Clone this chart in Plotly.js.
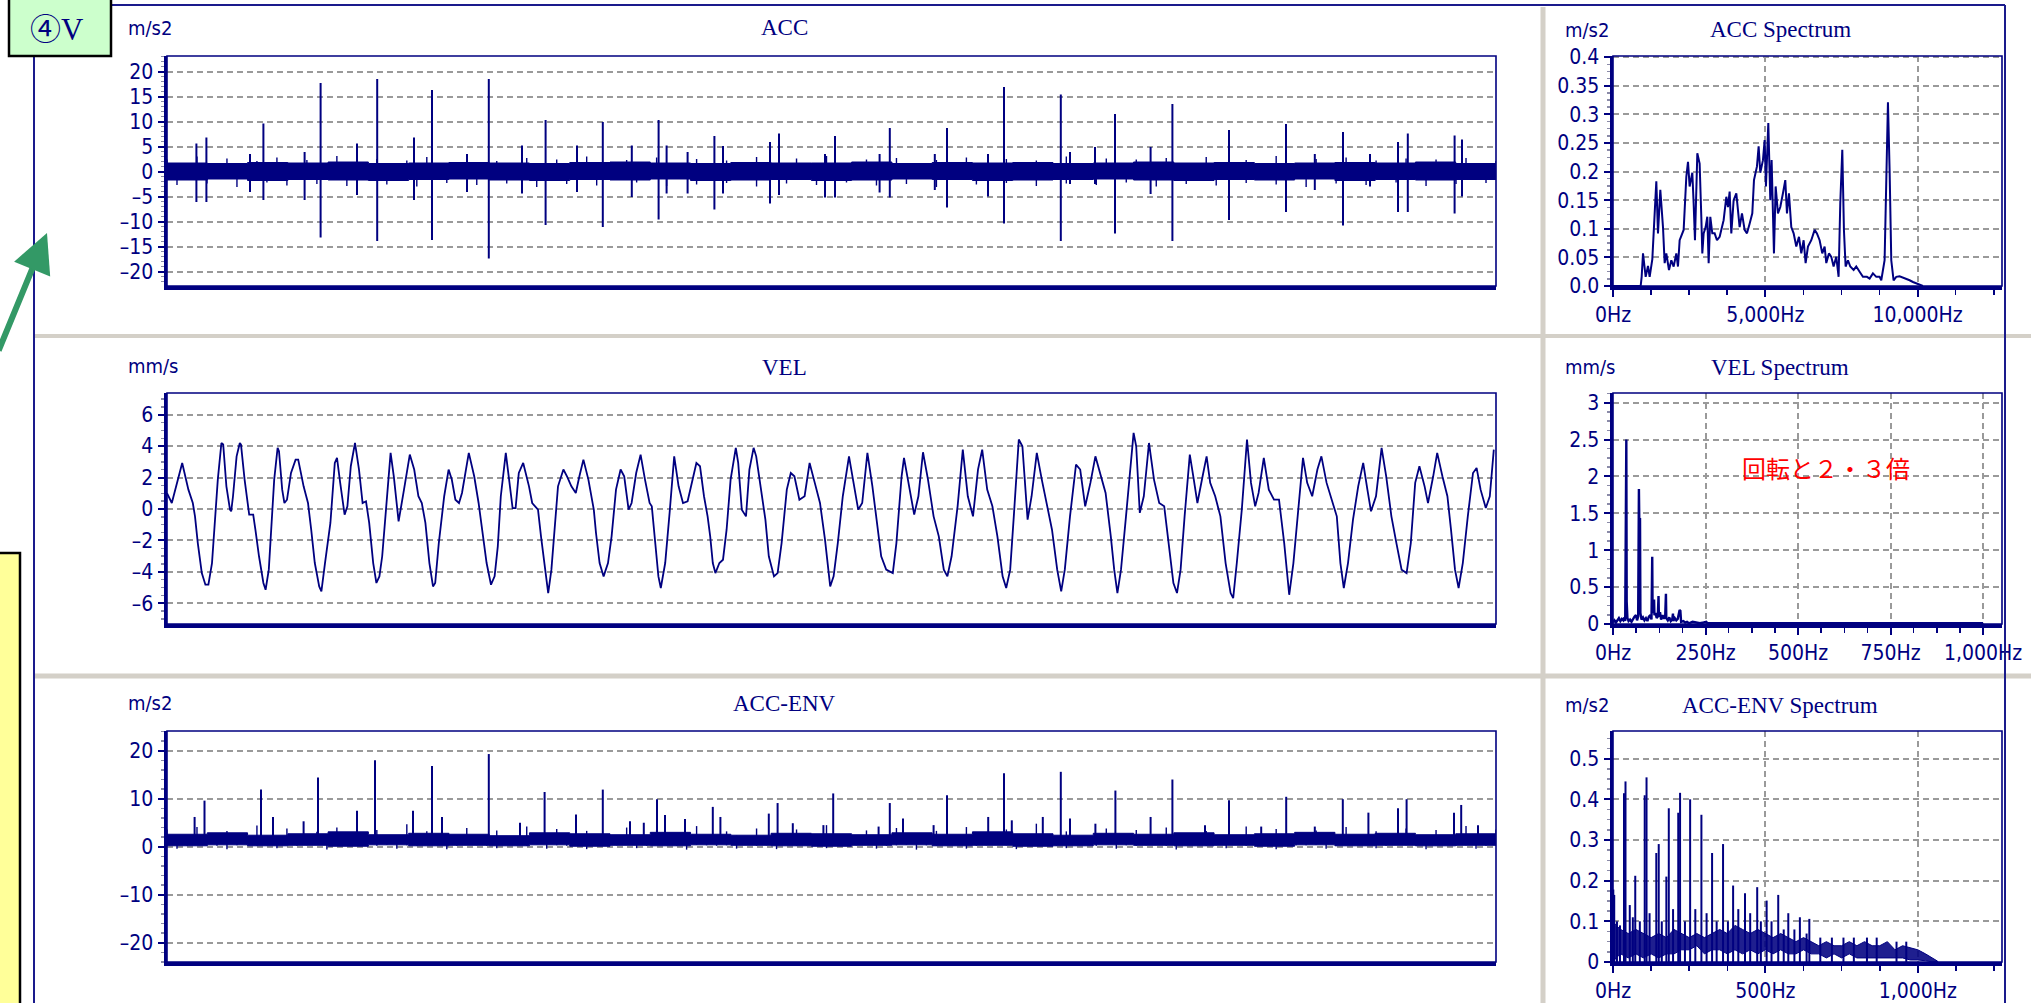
<!DOCTYPE html>
<html>
<head>
<meta charset="utf-8">
<script src="https://cdn.plot.ly/plotly-3.0.1.min.js"></script>
<style>
html,body{margin:0;padding:0;background:#ffffff;overflow:hidden;}
#chart{width:2031px;height:1003px;}
</style>
</head>
<body>
<div id="chart"></div>
<script>
// ---------------- DATA ----------------
const TIME_SPAN_MS = 664.5;
// ACC time waveform (m/s2): solid noise core (every ~20 ms), noise whiskers (every ~5 ms), impulse spikes
const ACC_CORE_UP = [1.7,1.6,1.8,1.7,1.9,1.6,1.7,1.8,1.7,1.6,1.8,1.9,1.7,1.6,1.8,1.7,1.7,1.9,1.6,1.8,1.7,1.8,1.6,1.7,1.9,1.7,1.8,1.6,1.7,1.8,1.7,1.9,1.6,1.7];
const ACC_CORE_LO = [-1.6,-1.7,-1.5,-1.8,-1.6,-1.7,-1.8,-1.6,-1.5,-1.7,-1.8,-1.6,-1.7,-1.5,-1.8,-1.7,-1.6,-1.8,-1.7,-1.5,-1.6,-1.8,-1.7,-1.6,-1.5,-1.7,-1.8,-1.6,-1.7,-1.5,-1.8,-1.6,-1.7,-1.6];
const ACC_NOISE_UP = [
2.4,1.0,1.2,3.0,1.1,1.0,2.6,1.3,1.0,2.1,1.2,2.8,1.0,1.1,2.3,1.0,1.3,3.1,1.2,1.0,
1.0,2.5,1.1,1.2,2.2,1.0,2.9,1.3,1.0,1.1,2.6,1.0,1.2,2.1,1.1,1.0,2.7,1.2,1.0,2.4,
1.1,1.0,3.0,1.2,1.0,1.3,2.3,1.0,1.1,2.8,1.0,1.2,1.0,2.5,1.1,1.0,2.2,1.3,1.0,2.9,
1.2,1.0,1.1,2.6,1.0,1.2,3.1,1.0,1.1,1.3,2.4,1.0,1.2,2.7,1.0,1.1,1.0,2.3,1.2,1.0,
2.8,1.1,1.0,1.3,2.5,1.0,1.2,2.2,1.0,1.1,3.0,1.0,1.2,1.0,2.6,1.1,1.3,2.4,1.0,1.0,
2.7,1.2,1.0,1.1,2.9,1.0,1.3,1.0,2.3,1.2,1.0,3.1,1.1,1.0,1.2,2.5,1.0,1.1,2.8,1.0,
1.2,2.2,1.0,1.1,2.6,1.3,1.0,2.4,1.0,1.2,2.7,1.0,1.1,2.1];
const ACC_NOISE_LO = [
-1.0,-2.7,-1.1,-1.0,-2.4,-1.2,-1.0,-3.1,-1.1,-1.3,-2.2,-1.0,-2.8,-1.2,-1.0,-2.5,-1.1,-1.0,-2.9,-1.2,
-1.0,-1.3,-2.6,-1.0,-1.1,-3.0,-1.0,-1.2,-2.3,-1.0,-1.1,-2.7,-1.3,-1.0,-2.4,-1.1,-1.0,-3.1,-1.2,-1.0,
-2.5,-1.1,-1.0,-2.8,-1.2,-1.0,-1.1,-2.2,-1.3,-1.0,-2.9,-1.1,-1.0,-2.6,-1.2,-1.0,-2.3,-1.1,-1.3,-3.0,
-1.0,-1.2,-2.4,-1.0,-1.1,-2.7,-1.0,-1.3,-2.2,-1.1,-1.0,-2.8,-1.2,-1.0,-2.5,-1.1,-1.0,-3.1,-1.2,-1.0,
-1.1,-2.6,-1.0,-1.3,-2.3,-1.0,-1.2,-2.9,-1.0,-1.1,-2.4,-1.3,-1.0,-2.7,-1.1,-1.0,-2.2,-1.2,-1.0,-3.0,
-1.1,-1.0,-2.5,-1.2,-1.0,-2.8,-1.1,-1.3,-2.3,-1.0,-1.2,-2.6,-1.0,-1.1,-3.1,-1.0,-1.2,-2.4,-1.0,-1.1,
-2.7,-1.0,-1.3,-2.2,-1.1,-1.0,-2.9,-1.2,-1.0,-2.5,-1.1,-1.0,-2.3,-1.2];
const ACC_SPIKE_T = [14.7,19.7,41.5,48.2,68.8,76.8,95.0,105.1,123.5,132.5,
150.0,160.9,177.5,189.3,205.0,217.9,232.4,245.8,249.8,260.3,
273.7,278.0,301.5,306.0,329.0,334.0,356.3,361.4,383.9,390.0,
410.5,418.5,446.9,451.5,464.0,474.0,491.8,502.7,531.0,559.5,
573.9,588.0,601.5,615.5,620.4,643.8,647.5];
const ACC_SPIKE_HI = [5.6,6.8,3.5,9.6,3.9,17.7,5.6,18.5,6.8,16.3,
3.5,18.5,5.2,10.3,5.2,9.9,5.2,10.3,5.2,3.9,
7.1,5.1,5.9,7.6,3.5,7.1,3.5,8.7,3.5,8.7,
3.5,16.9,15.4,3.9,4.9,11.5,4.9,13.5,8.3,9.5,
3.5,7.9,3.5,5.9,7.6,7.2,6.4];
const ACC_SPIKE_LO = [-6.1,-6.1,-4.1,-5.7,-5.7,-13.2,-4.7,-13.9,-5.7,-13.7,
-4.1,-17.4,-4.4,-10.7,-4.1,-11.1,-5.1,-9.6,-4.4,-4.4,
-7.6,-4.4,-6.4,-4.7,-5.2,-5.2,-4.2,-5.2,-3.7,-7.2,
-5.0,-10.4,-13.9,-2.5,-2.5,-12.4,-4.5,-13.9,-9.7,-8.1,
-3.7,-10.8,-3.0,-8.1,-8.1,-8.4,-5.0];

// VEL time waveform (mm/s)
const VEL_T = [
0,2.4,7.6,10.7,12.9,14.0,15.4,17.4,19.2,20.7,
22.5,23.6,25.4,27.2,28.1,29.7,31.5,32.1,33.0,34.8,
36.4,37.0,38.8,41.1,43.1,44.2,46.0,48.2,49.3,50.9,
52.0,53.6,55.3,56.0,57.6,58.7,60.0,62.0,64.3,65.6,
68.3,70.5,72.1,73.9,76.1,77.2,79.0,81.7,83.9,85.0,
86.6,88.8,90.2,91.9,94.0,96.0,97.8,99.5,101.1,103.1,
104.7,106.2,107.6,109.4,111.8,113.4,115.2,115.8,118.5,121.4,
123.6,125.7,127.4,129.2,131.2,133.0,134.1,135.9,138.6,140.8,
142.4,144.2,146.0,147.5,150.9,153.6,155.8,157.6,159.8,162.0,
163.8,165.4,166.9,169.4,171.0,172.8,174.3,175.9,178.1,181.0,
182.6,185.5,187.0,188.8,190.6,192.2,193.7,195.5,198.2,200.0,
202.2,204.4,206.2,208.2,210.7,213.4,214.5,216.3,218.3,220.5,
222.3,224.5,226.8,228.6,230.8,232.3,234.6,236.8,239.0,241.3,
242.4,244.0,245.7,246.9,249.1,251.3,253.6,255.8,258.0,260.3,
264.7,
266.5,268.5,270.3,271.6,272.9,274.2,276.2,278.0,279.8,281.8,
284.4,285.6,287.4,289.5,291.2,293.3,294.6,297.1,299.2,300.9,
303.5,305.3,307.3,309.9,311.9,313.7,316.2,318.8,321.3,323.9,
326.5,329.0,331.6,333.3,335.4,337.9,341.0,343.0,345.6,347.6,
350.2,352.7,354.5,357.1,359.6,362.9,364.7,367.3,368.5,371.1,
373.6,375.7,378.0,380.5,383.3,385.9,388.4,390.2,392.3,395.3,
397.9,400.4,403.0,405.5,407.6,410.1,412.7,415.2,417.8,419.6,
421.6,423.4,425.9,427.7,430.3,432.3,434.9,437.4,440.0,442.5,
445.1,447.1,448.9,451.5,454.5,456.6,459.1,461.7,464.2,466.8,
469.3,471.9,473.6,475.2,477.0,479.5,481.3,483.3,484.6,486.4,
488.4,491.0,493.5,496.1,498.6,501.2,503.2,505.0,506.8,508.8,
511.4,513.4,515.2,517.8,519.8,521.6,524.1,526.7,529.3,531.8,
533.1,534.9,537.4,540.0,542.0,544.1,545.8,548.4,550.9,553.5,
556.0,558.6,561.1,563.2,565.5,568.0,570.1,572.6,575.2,577.2,
579.8,582.3,584.9,586.7,588.4,590.5,593.0,595.6,598.1,600.2,
602.0,604.5,607.3,609.6,612.2,614.7,617.3,619.8,621.9,624.1,
626.2,628.8,630.5,633.1,635.1,637.7,640.2,642.0,644.0,645.8,
647.9,650.4,653.0,654.8,656.8,659.4,661.4,663.4];
const VEL_V = [
1.0,0.38,2.93,1.23,0.38,-0.47,-2.17,-4.08,-4.82,-4.82,
-3.44,-1.32,1.87,4.20,4.10,1.44,-0.04,-0.15,0.81,3.35,
4.20,4.10,1.87,-0.36,-0.36,-1.32,-3.01,-4.71,-5.14,-3.86,
-1.32,1.87,3.89,3.67,1.23,0.38,0.59,2.29,3.14,3.14,
1.44,0.38,-1.32,-3.44,-4.93,-5.24,-3.44,-0.89,2.93,3.25,
1.66,-0.36,0.17,2.72,4.20,2.51,0.38,0.49,-0.89,-3.44,
-4.71,-4.29,-3.01,-0.04,3.57,2.08,-0.47,-0.79,1.23,3.46,
2.51,0.81,0.38,-0.89,-3.44,-4.93,-4.71,-2.17,0.81,2.51,
1.87,0.59,0.38,1.02,3.57,2.08,0.38,-1.32,-3.44,-4.82,
-4.29,-2.38,0.81,3.57,2.08,0.06,0.06,2.29,2.93,1.44,
0.38,-0.04,-1.74,-3.44,-5.35,-3.86,-1.32,1.44,2.51,2.08,
1.44,1.02,2.08,3.14,1.87,-0.04,-1.53,-3.44,-4.29,-3.44,
-1.74,1.23,2.51,2.08,-0.04,0.38,2.29,3.46,1.87,0.38,
0.17,-1.95,-4.29,-5.03,-3.44,-0.25,3.35,1.44,0.38,0.49,
2.93,
2.72,0.81,-0.47,-1.74,-3.44,-4.08,-3.44,-3.23,-1.32,1.87,
3.89,2.93,-0.04,-0.47,2.51,3.89,3.35,1.23,-0.68,-3.01,
-4.29,-4.08,-2.17,1.23,2.29,2.08,0.59,0.81,2.93,1.66,
0.38,-1.95,-4.93,-4.29,-2.17,0.81,3.35,1.87,-0.04,0.38,
3.57,1.44,-0.47,-3.01,-3.86,-4.08,-2.17,2.08,3.25,1.44,
-0.36,0.81,3.61,1.87,-0.47,-1.74,-3.86,-4.29,-3.01,0.17,
3.78,0.81,-0.47,2.51,3.78,1.23,0.17,-1.74,-4.29,-5.03,
-3.86,-0.47,4.42,3.99,-0.68,0.81,3.57,1.87,0.17,-1.32,
-3.86,-5.24,-3.86,-0.47,2.82,2.51,0.17,1.66,3.35,2.08,
1.02,-1.74,-3.86,-5.35,-3.86,-0.47,2.08,4.84,3.99,-0.25,
0.81,4.20,1.87,0.38,0.17,-2.38,-4.71,-5.35,-3.86,-0.47,
3.46,1.87,0.38,2.08,3.35,1.66,0.81,-0.47,-3.44,-5.35,
-5.67,-3.44,-0.04,4.42,1.66,0.17,1.02,3.25,1.23,0.59,
0.59,-2.17,-5.46,-3.44,-0.04,3.25,1.66,0.81,2.51,3.35,
1.66,0.59,-0.47,-3.44,-5.03,-3.44,-0.68,1.44,2.93,1.23,
-0.15,0.81,3.89,2.08,-0.47,-2.17,-3.86,-4.08,-2.17,1.66,
2.72,1.44,0.38,2.08,3.57,2.08,0.81,-1.32,-3.86,-5.03,
-3.44,-0.47,2.29,2.61,1.23,0.06,0.81,3.78];

// ACC-ENV time waveform (m/s2)
const ENV_CORE_UP = [2.6,2.9,2.4,2.7,3.1,2.5,2.8,2.6,2.3,2.9,2.7,2.5,3.0,2.6,2.4,2.8,2.7,2.5,2.9,2.6,3.1,2.7,2.4,2.8,2.6,2.9,2.5,2.7,3.0,2.6,2.8,2.5,2.7,2.6];
const ENV_CORE_LO = [0.3,0.2,0.4,0.2,0.3,0.1,0.4,0.2,0.3,0.2,0.4,0.1,0.3,0.2,0.4,0.3,0.2,0.1,0.3,0.4,0.2,0.3,0.1,0.2,0.4,0.3,0.2,0.3,0.1,0.4,0.2,0.3,0.2,0.3];
const ENV_NOISE_UP = [
3.6,2.0,2.2,4.1,2.1,2.0,3.3,2.3,2.0,4.4,2.2,2.0,3.8,2.1,2.0,3.1,2.2,4.0,2.0,2.1,
2.0,3.5,2.1,2.2,4.7,2.0,3.2,2.3,2.0,2.1,3.9,2.0,2.2,3.4,2.1,2.0,4.2,2.2,2.0,3.7,
2.1,2.0,3.3,2.2,2.0,2.3,4.0,2.0,2.1,3.5,2.0,2.2,2.0,4.3,2.1,2.0,3.2,2.3,2.0,3.8,
2.2,2.0,2.1,3.6,2.0,2.2,4.5,2.0,2.1,2.3,3.4,2.0,2.2,3.9,2.0,2.1,2.0,3.3,2.2,2.0,
4.1,2.1,2.0,2.3,3.6,2.0,2.2,4.8,2.0,2.1,3.2,2.0,2.2,2.0,3.8,2.1,2.3,3.5,2.0,2.0,
4.0,2.2,2.0,2.1,3.3,2.0,2.3,2.0,4.2,2.2,2.0,3.7,2.1,2.0,2.2,3.4,2.0,2.1,4.1,2.0,
2.2,3.2,2.0,2.1,3.8,2.3,2.0,3.5,2.0,2.2,4.3,2.0,2.1,3.6];
const ENV_NOISE_LO = [
0.3,-0.4,0.2,0.4,0.3,0.2,-0.5,0.3,0.4,0.2,0.3,-0.3,0.4,0.2,0.3,0.5,-0.6,0.3,0.2,0.4,
0.3,0.2,0.4,-0.4,0.3,0.2,0.5,0.3,-0.5,0.2,0.4,0.3,0.2,-0.3,0.4,0.3,0.2,0.5,-0.4,0.3,
0.2,0.4,-0.5,0.3,0.2,0.3,0.4,-0.3,0.2,0.5,0.3,0.2,-0.6,0.4,0.3,0.2,0.3,-0.4,0.5,0.2,
0.3,-0.5,0.4,0.2,0.3,0.3,-0.3,0.2,0.4,0.3,0.5,-0.4,0.2,0.3,0.4,-0.6,0.3,0.2,0.3,0.4,
-0.4,0.2,0.3,0.5,0.3,-0.5,0.2,0.4,0.3,0.2,-0.3,0.3,0.4,0.2,0.5,-0.4,0.3,0.2,0.3,0.4,
0.2,-0.6,0.3,0.4,0.2,0.3,-0.3,0.5,0.2,0.3,0.4,-0.5,0.2,0.3,0.3,0.4,-0.4,0.2,0.3,0.5,
0.3,-0.3,0.2,0.4,0.3,0.2,-0.5,0.3,0.4,0.2,0.3,-0.4,0.2,0.3];
const ENV_SPIKE_T = [13.8,18.75,47.0,53.0,68.3,75.5,95.0,104.0,123.0,132.5,
137.5,160.9,176.5,188.8,204.5,217.9,231.5,238.4,245.0,249.0,
259.0,272.9,276.7,300.9,305.3,312.9,328.2,333.1,355.8,361.4,
368.0,383.3,390.0,410.6,418.5,422.4,437.9,446.9,451.5,464.2,
474.2,491.8,502.7,519.0,531.0,547.1,559.6,573.9,587.9,600.7,
615.5,619.8,643.5,647.1,655.5];
const ENV_SPIKE_V = [6.2,9.6,11.9,6.2,5.3,14.4,7.5,18.0,7.5,16.8,
6.2,19.3,5.0,11.4,6.7,11.9,5.3,5.0,9.9,6.6,
5.8,8.3,6.2,6.9,9.1,4.9,4.5,11.1,4.2,9.1,
5.9,4.5,10.7,6.2,15.3,5.5,6.2,15.6,5.9,4.8,
11.7,6.2,14.0,4.5,9.7,4.2,10.4,4.2,9.9,7.1,
8.0,9.9,7.1,8.7,4.5];

// ACC spectrum (Hz, m/s2)
const ACC_SPEC_F = [0,900,
908,941,985,1072,1149,1203,1291,1368,1422,1477,
1553,1641,1696,1750,1838,1915,1991,2079,2133,2188,
2276,2319,2407,2462,2516,2604,2647,2691,2768,2844,
2899,2932,2976,3041,3096,3140,3194,3260,3337,3413,
3501,3588,3632,3720,3774,3829,3884,3960,4048,4157,
4234,4321,4398,4485,4573,4628,4726,4781,4835,4923,
4978,5021,5098,5164,5207,5284,5339,5415,5492,5579,
5656,5711,5776,5853,5930,6017,6105,6181,6258,6323,
6400,6509,6619,6695,6783,6870,6947,7002,7089,7166,
7242,7330,7406,7461,7527,7581,7636,7713,7789,7899,
7986,8096,8205,8336,8424,8533,8643,8752,8807,8916,
8971,9026,9080,9135,9211,9299,9408,9518,9627,9737,
9846,9955,10065,10174];
const ACC_SPEC_A = [0,0,
0,0.016,0.057,0.016,0.035,0.016,0.047,0.127,0.183,0.092,
0.168,0.103,0.040,0.057,0.028,0.045,0.034,0.057,0.034,0.080,
0.092,0.098,0.191,0.217,0.174,0.198,0.145,0.080,0.232,0.214,
0.121,0.057,0.092,0.103,0.121,0.040,0.121,0.092,0.092,0.080,
0.086,0.103,0.115,0.156,0.138,0.165,0.092,0.150,0.162,0.103,
0.127,0.098,0.092,0.109,0.127,0.185,0.209,0.244,0.198,0.220,
0.255,0.174,0.285,0.150,0.220,0.057,0.174,0.127,0.138,0.162,
0.185,0.127,0.162,0.103,0.092,0.069,0.086,0.057,0.080,0.040,
0.069,0.080,0.098,0.092,0.080,0.057,0.069,0.040,0.057,0.051,
0.034,0.051,0.016,0.145,0.238,0.098,0.034,0.045,0.034,0.028,
0.034,0.025,0.016,0.016,0.013,0.022,0.016,0.016,0.010,0.045,
0.162,0.321,0.203,0.045,0.010,0.016,0.017,0.015,0.013,0.010,
0.007,0.005,0.002,0];

// VEL spectrum (Hz, mm/s)
const VEL_SPEC_F = [0,4,8,12,16,20,24,28,31,33,
34,35,36,37,38,39,42,46,50,54,
58,62,65,68,70,71,72,73,74,77,
81,85,89,93,97,101,104,106,107,109,
111,112,115,118,121,123,124,127,130,134,
138,141,143,144,148,152,156,160,162,163,
167,171,175,179,180,182,184,190,195,200,
205,215,225,235,245,252,255,1000];
const VEL_SPEC_A = [0.02,0.05,0.02,0.06,0.08,0.04,0.07,0.05,0.09,0.04,
1.49,1.49,2.5,0.3,0.1,0.08,0.04,0.06,0.03,0.07,
0.1,0.12,0.05,0.1,1.83,1.42,1.42,1.42,0.15,0.06,
0.09,0.05,0.08,0.04,0.1,0.12,0.06,0.91,0.15,0.2,
0.33,0.12,0.15,0.08,0.1,0.38,0.1,0.16,0.06,0.12,
0.07,0.1,0.41,0.08,0.05,0.09,0.04,0.06,0.14,0.04,
0.08,0.05,0.07,0.15,0.19,0.18,0.03,0.04,0.02,0.03,
0.01,0.03,0.02,0.01,0.02,0.03,0.01,0.01];

// ACC-ENV spectrum (Hz, m/s2): noise floor band + line peaks
const ENV_SPEC_BAND_F = [0,10,25,50,75,100,125,150,175,200,225,250,275,300,325,350,375,400,425,450,
475,500,525,550,575,600,625,650,675,700,725,750,775,800,825,850,875,900,925,950,975,1000,1025,1050,1065];
const ENV_SPEC_BAND_LO = [0,0.01,0.02,0.01,0.02,0.01,0.02,0.01,0.02,0.02,0.03,0.03,0.04,0.02,0.03,0.03,0.02,0.03,0.02,0.03,
0.02,0.03,0.02,0.03,0.02,0.02,0.03,0.02,0.02,0.01,0.02,0.01,0.02,0.01,0.01,0.01,0.01,0.01,0.01,0.01,0.005,0.005,0.003,0,0];
const ENV_SPEC_BAND_UP = [0.10,0.09,0.08,0.07,0.08,0.07,0.06,0.07,0.06,0.08,0.07,0.06,0.07,0.06,0.07,0.08,0.07,0.09,0.08,0.07,
0.08,0.07,0.06,0.07,0.06,0.05,0.06,0.05,0.04,0.05,0.04,0.04,0.05,0.04,0.05,0.04,0.04,0.05,0.03,0.04,0.035,0.03,0.02,0.01,0.002];
const ENV_SPEC_PEAK_F = [1,4,13,23,36,41,55,65,73,88,
104,110,120,142,150,160,175,183,197,214,
220,236,253,270,290,307,325,340,361,377,
394,411,433,450,473,485,504,520,542,560,
575,595,613,635,644,680,718,756,790,833,
865,930,962];
const ENV_SPEC_PEAK_A = [0.178,0.165,0.10,0.09,0.415,0.444,0.14,0.11,0.212,0.10,
0.41,0.454,0.12,0.268,0.29,0.10,0.21,0.378,0.13,0.367,
0.416,0.10,0.40,0.13,0.362,0.12,0.268,0.10,0.29,0.10,
0.188,0.13,0.169,0.12,0.184,0.10,0.151,0.10,0.165,0.08,
0.12,0.08,0.11,0.07,0.106,0.06,0.06,0.06,0.06,0.06,
0.06,0.05,0.05];

// Tick labels
const ACC_Y_TICKS = [-20,-15,-10,-5,0,5,10,15,20];
const ACC_Y_LABELS = ['–20','–15','–10','–5','0','5','10','15','20'];
const VEL_Y_TICKS = [-6,-4,-2,0,2,4,6];
const VEL_Y_LABELS = ['–6','–4','–2','0','2','4','6'];
const ENV_Y_TICKS = [-20,-10,0,10,20];
const ENV_Y_LABELS = ['–20','–10','0','10','20'];
const ACC_SPEC_Y_TICKS = [0,0.05,0.1,0.15,0.2,0.25,0.3,0.35,0.4];
const ACC_SPEC_Y_LABELS = ['0.0','0.05','0.1','0.15','0.2','0.25','0.3','0.35','0.4'];
const ACC_SPEC_X_TICKS = [0,5000,10000];
const ACC_SPEC_X_LABELS = ['0Hz','5,000Hz','10,000Hz'];
const VEL_SPEC_Y_TICKS = [0,0.5,1,1.5,2,2.5,3];
const VEL_SPEC_Y_LABELS = ['0','0.5','1','1.5','2','2.5','3'];
const VEL_SPEC_X_TICKS = [0,250,500,750,1000];
const VEL_SPEC_X_LABELS = ['0Hz','250Hz','500Hz','750Hz','1,000Hz'];
const ENV_SPEC_Y_TICKS = [0,0.1,0.2,0.3,0.4,0.5];
const ENV_SPEC_Y_LABELS = ['0','0.1','0.2','0.3','0.4','0.5'];
const ENV_SPEC_X_TICKS = [0,500,1000];
const ENV_SPEC_X_LABELS = ['0Hz','500Hz','1,000Hz'];

// ---------------- STYLE / LAYOUT ----------------
const W = 2031, H = 1003;
const NAVY = '#000080';
const GRID = '#9a9a9a';
const TICKFONT = {family:'DejaVu Sans Condensed, Liberation Sans Narrow, DejaVu Sans, sans-serif', size:21, color:NAVY};
const TITLEFONT = {family:'Liberation Serif, DejaVu Serif, serif', size:23, color:NAVY};
const UNITFONT = {family:'DejaVu Sans Condensed, Liberation Sans Narrow, DejaVu Sans, sans-serif', size:20, color:NAVY};
function px(x){return x/W;}
function py(y){return 1-y/H;}

const XD_T = [px(167), px(1496)];
const XD_S = [px(1613), px(2002)];
const YD1 = [py(286), py(56)];
const YD2 = [py(624), py(393)];
const YD3 = [py(962), py(731)];

function yAxis(dom, range, vals, labels, minorD, anchor){
  return {domain:dom, range:range, anchor:anchor, tickmode:'array', tickvals:vals, ticktext:labels,
    ticks:'outside', ticklen:6, tickwidth:2, tickcolor:NAVY,
    showline:true, linewidth:3.5, linecolor:NAVY, mirror:false,
    showgrid:true, gridcolor:GRID, gridwidth:2, griddash:'6px,4px', zeroline:false,
    tickfont:TICKFONT, fixedrange:true,
    minor:{tickmode:'linear', tick0:0, dtick:minorD, ticks:'outside', ticklen:3, tickwidth:1.5, tickcolor:'#8a8aa8', showgrid:false}};
}
function xTimeAxis(anchor){
  return {domain:XD_T, range:[0, TIME_SPAN_MS], anchor:anchor, showline:true, linewidth:3.5, linecolor:NAVY,
    ticks:'', showticklabels:false, showgrid:false, zeroline:false, fixedrange:true};
}
function xSpecAxis(range, vals, labels, minorD, anchor){
  return {domain:XD_S, range:range, anchor:anchor, tickmode:'array', tickvals:vals, ticktext:labels,
    ticks:'outside', ticklen:7, tickwidth:2, tickcolor:NAVY,
    showline:true, linewidth:3.5, linecolor:NAVY,
    showgrid:true, gridcolor:GRID, gridwidth:2, griddash:'6px,4px', zeroline:false,
    tickfont:TICKFONT, fixedrange:true,
    minor:{tickmode:'linear', tick0:0, dtick:minorD, ticks:'outside', ticklen:5, tickwidth:1.5, tickcolor:NAVY, showgrid:false}};
}

// ---------------- TRACES ----------------
function sampleTimes(n){ return Array.from({length:n}, (_, i) => i*TIME_SPAN_MS/(n-1)); }
function coreTrace(up, lo, xa, ya){
  const t = sampleTimes(up.length);
  const xs = t.concat(t.slice().reverse());
  const ys = up.concat(lo.slice().reverse());
  return {x:xs, y:ys, xaxis:xa, yaxis:ya, mode:'lines', fill:'toself', fillcolor:NAVY,
    line:{color:NAVY, width:1, shape:'hv'}, hoverinfo:'skip'};
}
function bandTraceXY(f, up, lo, xa, ya){
  const xs = f.concat(f.slice().reverse());
  const ys = up.concat(lo.slice().reverse());
  return {x:xs, y:ys, xaxis:xa, yaxis:ya, mode:'lines', fill:'toself', fillcolor:'rgba(0,0,128,0.88)',
    line:{color:NAVY, width:1}, hoverinfo:'skip'};
}
function spikeTrace(t, hi, lo, xa, ya, w){
  const xs=[], ys=[];
  t.forEach((v,i)=>{ xs.push(v,v,null); ys.push(Array.isArray(lo)?lo[i]:lo, hi[i], null); });
  return {x:xs, y:ys, xaxis:xa, yaxis:ya, mode:'lines', line:{color:NAVY, width:w}, hoverinfo:'skip', connectgaps:false};
}

const traces = [
  coreTrace(ACC_CORE_UP, ACC_CORE_LO, 'x', 'y'),
  spikeTrace(sampleTimes(ACC_NOISE_UP.length), ACC_NOISE_UP, ACC_NOISE_LO, 'x', 'y', 1.4),
  spikeTrace(ACC_SPIKE_T, ACC_SPIKE_HI, ACC_SPIKE_LO, 'x', 'y', 2),
  {x:ACC_SPEC_F, y:ACC_SPEC_A, xaxis:'x2', yaxis:'y2', mode:'lines', line:{color:NAVY, width:2}},
  {x:VEL_T, y:VEL_V, xaxis:'x3', yaxis:'y3', mode:'lines', line:{color:NAVY, width:1.8}},
  {x:VEL_SPEC_F, y:VEL_SPEC_A, xaxis:'x4', yaxis:'y4', mode:'lines', line:{color:NAVY, width:2.4}},
  coreTrace(ENV_CORE_UP, ENV_CORE_LO, 'x5', 'y5'),
  spikeTrace(sampleTimes(ENV_NOISE_UP.length), ENV_NOISE_UP, ENV_NOISE_LO, 'x5', 'y5', 1.4),
  spikeTrace(ENV_SPIKE_T, ENV_SPIKE_V, 1.0, 'x5', 'y5', 2),
  bandTraceXY(ENV_SPEC_BAND_F, ENV_SPEC_BAND_UP, ENV_SPEC_BAND_LO, 'x6', 'y6'),
  spikeTrace(ENV_SPEC_PEAK_F, ENV_SPEC_PEAK_A, 0, 'x6', 'y6', 2)
];

// ---------------- DECORATION ----------------
const BORDER = '#1a1a8c';
const SEP = '#d4d0c8';
const shapes = [
  {type:'line', xref:'paper', yref:'paper', x0:px(34), x1:px(2031), y0:py(336), y1:py(336), line:{color:SEP, width:4}},
  {type:'line', xref:'paper', yref:'paper', x0:px(34), x1:px(2031), y0:py(676), y1:py(676), line:{color:SEP, width:5}},
  {type:'line', xref:'paper', yref:'paper', x0:px(1543), x1:px(1543), y0:py(7), y1:py(1003), line:{color:SEP, width:5}},
  {type:'line', xref:'paper', yref:'paper', x0:px(111), x1:px(2005), y0:py(5), y1:py(5), line:{color:BORDER, width:2}},
  {type:'line', xref:'paper', yref:'paper', x0:px(34), x1:px(34), y0:py(57), y1:py(1003), line:{color:BORDER, width:2}},
  {type:'line', xref:'paper', yref:'paper', x0:px(2005), x1:px(2005), y0:py(5), y1:py(1003), line:{color:BORDER, width:2}},
  {type:'rect', xref:'paper', yref:'paper', x0:px(9), x1:px(111), y0:py(56), y1:py(-2), fillcolor:'#ccffcc', line:{color:'#000000', width:2.5}},
  {type:'rect', xref:'paper', yref:'paper', x0:px(-5), x1:px(20), y0:py(1010), y1:py(553), fillcolor:'#ffff99', line:{color:'#000000', width:2.5}},
  {type:'rect', xref:'paper', yref:'paper', x0:px(1720), x1:px(1967), y0:py(497), y1:py(438), fillcolor:'#ffffff', line:{width:0}, layer:'between'}
];
['', '2', '3', '4', '5', '6'].forEach(s => {
  shapes.push({type:'rect', xref:'x'+s+' domain', yref:'y'+s+' domain', x0:0, x1:1, y0:0, y1:1,
    line:{color:NAVY, width:1.6}, fillcolor:'rgba(0,0,0,0)', layer:'above'});
});

function txt(text, xpx, ypx, font, xanchor){
  return {xref:'paper', yref:'paper', x:px(xpx), y:py(ypx), text:text, showarrow:false,
    xanchor:xanchor||'center', yanchor:'middle', font:font};
}
const annotations = [
  txt('m/s2', 126, 28, UNITFONT, 'left'),
  txt('ACC', 784, 28, TITLEFONT),
  txt('m/s2', 1563, 30, UNITFONT, 'left'),
  txt('ACC Spectrum', 1780, 30, TITLEFONT),
  txt('mm/s', 126, 366, UNITFONT, 'left'),
  txt('VEL', 784, 367, TITLEFONT),
  txt('mm/s', 1563, 367, UNITFONT, 'left'),
  txt('VEL Spectrum', 1780, 367, TITLEFONT),
  txt('m/s2', 126, 703, UNITFONT, 'left'),
  txt('ACC-ENV', 784, 703, TITLEFONT),
  txt('m/s2', 1563, 705, UNITFONT, 'left'),
  txt('ACC-ENV Spectrum', 1780, 705, TITLEFONT),
  txt('回転と２・３倍', 1826, 468, {family:'Noto Sans CJK JP, sans-serif', size:24, color:'#ff0000'}),
  txt('④V', 57, 30, {family:'Liberation Serif, Noto Sans CJK JP, serif', size:31, color:NAVY}),
  {xref:'paper', yref:'paper', axref:'paper', ayref:'paper', x:px(47), y:py(233), ax:px(-2), ay:py(352),
    text:'', showarrow:true, arrowhead:2, arrowsize:1.3, arrowwidth:6, arrowcolor:'#339966'}
];

const layout = {
  width:W, height:H, margin:{l:0, r:0, t:0, b:0},
  paper_bgcolor:'#ffffff', plot_bgcolor:'#ffffff', showlegend:false,
  xaxis: xTimeAxis('y'),
  yaxis: yAxis(YD1, [-22.9, 23.1], ACC_Y_TICKS, ACC_Y_LABELS, 1, 'x'),
  xaxis2: xSpecAxis([0, 12770], ACC_SPEC_X_TICKS, ACC_SPEC_X_LABELS, 1250, 'y2'),
  yaxis2: yAxis(YD1, [0, 0.402], ACC_SPEC_Y_TICKS, ACC_SPEC_Y_LABELS, 0.0125, 'x2'),
  xaxis3: xTimeAxis('y3'),
  yaxis3: yAxis(YD2, [-7.32, 7.38], VEL_Y_TICKS, VEL_Y_LABELS, 0.5, 'x3'),
  xaxis4: xSpecAxis([0, 1051], VEL_SPEC_X_TICKS, VEL_SPEC_X_LABELS, 62.5, 'y4'),
  yaxis4: yAxis(YD2, [0, 3.13], VEL_SPEC_Y_TICKS, VEL_SPEC_Y_LABELS, 0.125, 'x4'),
  xaxis5: xTimeAxis('y5'),
  yaxis5: yAxis(YD3, [-24, 24.1], ENV_Y_TICKS, ENV_Y_LABELS, 2, 'x5'),
  xaxis6: xSpecAxis([0, 1276], ENV_SPEC_X_TICKS, ENV_SPEC_X_LABELS, 125, 'y6'),
  yaxis6: yAxis(YD3, [0, 0.568], ENV_SPEC_Y_TICKS, ENV_SPEC_Y_LABELS, 0.025, 'x6'),
  shapes: shapes,
  annotations: annotations
};

Plotly.newPlot('chart', traces, layout, {staticPlot:true, displayModeBar:false});
</script>
</body>
</html>
